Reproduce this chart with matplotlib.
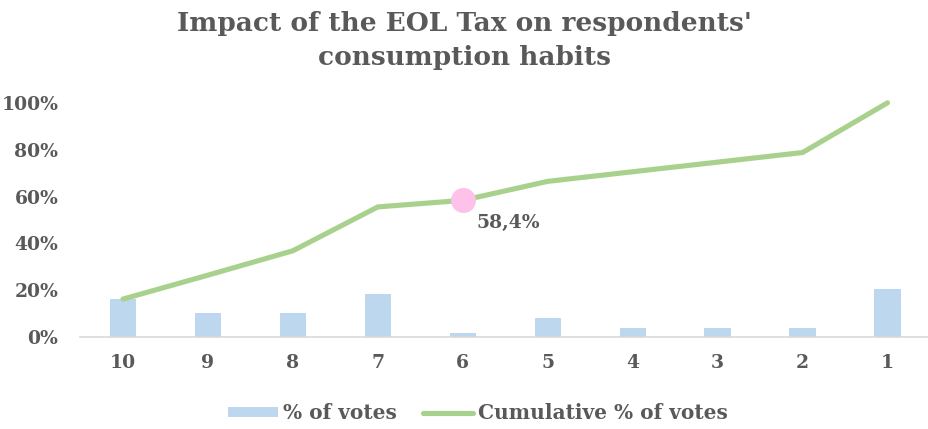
import matplotlib
matplotlib.use("Agg")
import matplotlib.pyplot as plt
from matplotlib.ticker import PercentFormatter

# Survey results: score given (10 = strongest impact) and share of votes
categories = ["10", "9", "8", "7", "6", "5", "4", "3", "2", "1"]
pct_votes = [16.3, 10.2, 10.2, 18.6, 2.0, 8.1, 4.0, 4.0, 4.0, 20.5]
cumulative_pct = [16.3, 26.5, 36.9, 55.6, 58.4, 66.5, 70.6, 74.7, 78.8, 100.0]
highlight_idx = 4
highlight_label = "58,4%"

TEXT = "#595959"
BAR = "#BDD7EE"
LINE = "#A9D18E"
DOT = "#FDC1EA"
FONT = "DejaVu Serif"

fig = plt.figure(figsize=(9.29, 4.29), dpi=100)
ax = fig.add_axes([80.5 / 929, 1 - 337.3 / 429, 849.5 / 929, 234.5 / 429])

x = list(range(len(categories)))
bars = ax.bar(x, pct_votes, width=0.31, color=BAR, label="% of votes", zorder=2)
line, = ax.plot(x, cumulative_pct, color=LINE, lw=3.7, solid_capstyle="round",
                label="Cumulative % of votes", zorder=3, clip_on=False)
ax.plot([x[highlight_idx]], [cumulative_pct[highlight_idx]], "o", color=DOT,
        markersize=17, zorder=4, clip_on=False)
ax.annotate(highlight_label, (x[highlight_idx], cumulative_pct[highlight_idx]),
            xytext=(46, -23), textcoords="offset pixels", ha="center", va="center",
            fontsize=13.5, fontweight="bold", color=TEXT, family=FONT)

ax.set_xlim(-0.5, len(categories) - 0.5)
ax.set_ylim(0, 100)
ax.set_xticks(x)
ax.set_xticklabels(categories)
ax.set_yticks([0, 20, 40, 60, 80, 100])
ax.yaxis.set_major_formatter(PercentFormatter(decimals=0))

for s in ["top", "right", "left"]:
    ax.spines[s].set_visible(False)
ax.spines["bottom"].set_color("#D9D9D9")
ax.spines["bottom"].set_linewidth(1.2)
ax.tick_params(axis="both", length=0, labelsize=13.5, labelcolor=TEXT)
ax.tick_params(axis="x", pad=12)
ax.tick_params(axis="y", pad=16)
for lab in ax.get_xticklabels() + ax.get_yticklabels():
    lab.set_family(FONT)
    lab.set_fontweight("bold")

fig.text(0.5, 0.975, "Impact of the EOL Tax on respondents'\nconsumption habits",
         ha="center", va="top", fontsize=19, fontweight="bold", color=TEXT,
         family=FONT, linespacing=1.45)

leg = fig.legend([bars, line], ["% of votes", "Cumulative % of votes"],
                 loc="center", bbox_to_anchor=(478 / 929, 1 - 413 / 429), ncol=2,
                 frameon=False, prop={"family": FONT, "weight": "bold", "size": 14.5},
                 handlelength=2.5, handleheight=0.42, handletextpad=0.25,
                 columnspacing=1.3)
for t in leg.get_texts():
    t.set_color(TEXT)

fig.savefig("out.png", dpi=100)
